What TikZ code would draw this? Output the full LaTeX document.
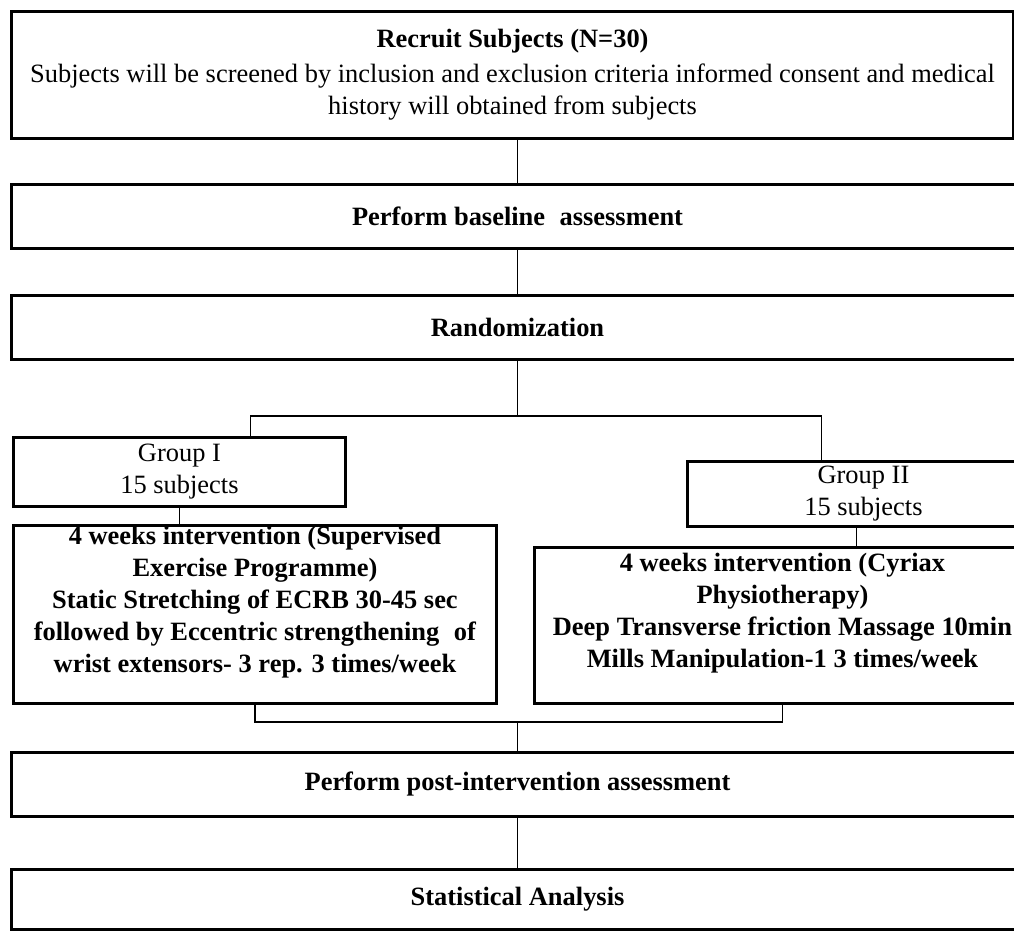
\documentclass[tikz,border=0pt]{standalone}
\usepackage{fontspec}
\setmainfont{Liberation Serif}

\begin{document}
\begin{tikzpicture}[x=0.025cm, y=-0.025cm,
  box/.style={draw, line width=2pt, inner sep=0pt, anchor=north west},
  txt/.style={align=center, inner sep=0pt, font=\fontsize{18.8}{22.8}\selectfont},
  link/.style={line width=1pt}]
  \useasboundingbox (0,0) rectangle (1014,930);
  \clip (0,0) rectangle (1014,930);

  \node[box, txt, minimum width=25.05cm, minimum height=3.175cm] (recruit) at (10,10)
    {\textbf{Recruit Subjects (N=30)}\\[2pt]
     Subjects will be screened by inclusion and exclusion criteria informed consent and medical\\
     history will obtained from subjects};
  \node[box, txt, minimum width=25.3cm, minimum height=1.6cm] (baseline) at (10,183)
    {\textbf{Perform baseline\hspace{0.3em} assessment}};
  \node[box, txt, minimum width=25.3cm, minimum height=1.6cm] (random) at (10,294)
    {\textbf{Randomization}};

  \node[box, txt, minimum width=8.3cm, minimum height=1.725cm] (grpA) at (12,436)
    {Group I\\15 subjects};
  \node[box, minimum width=12.075cm, minimum height=4.45cm] (intA) at (12,524) {};
  \node[txt, anchor=north, yshift=-0.05cm] (intAtxt) at (intA.north)
    {\textbf{4 weeks intervention (Supervised}\\
     \textbf{Exercise Programme)}\\
     \textbf{Static Stretching of ECRB 30-45 sec}\\
     \textbf{followed by Eccentric strengthening\hspace{0.3em} of}\\
     \textbf{wrist extensors- 3 rep. 3 times/week}};

  \node[box, txt, minimum width=8.8cm, minimum height=1.625cm] (grpB) at (686,460)
    {Group II\\15 subjects};
  \node[box, minimum width=12.4cm, minimum height=3.9cm] (intB) at (533,546) {};
  \node[txt, anchor=north, yshift=-0.175cm] (intBtxt) at (intB.north)
    {\textbf{4 weeks intervention (Cyriax}\\
     \textbf{Physiotherapy)}\\
     \textbf{Deep Transverse friction Massage 10min}\\
     \textbf{Mills Manipulation-1 3 times/week}};

  \node[box, txt, minimum width=25.3cm, minimum height=1.6cm] (post) at (10,751)
    {\textbf{Perform post-intervention assessment}};
  \node[box, txt, minimum width=25.3cm, minimum height=1.5cm] (stats) at (10,868)
    {\textbf{Statistical Analysis}};

  \draw[link] (baseline.north) -- (baseline.north |- recruit.south);
  \draw[link] (random.north) -- (random.north |- baseline.south);
  \draw[link] (random.south) -- ++(0,55) coordinate (split);
  \draw[link] ([xshift=1.775cm]grpA.north) |- (split) -| ([xshift=-1.05cm]grpB.north);
  \draw[link] (grpA.south) -- (grpA.south |- intA.north);
  \draw[link] ([xshift=-0.175cm]grpB.south) -- ([xshift=-0.175cm]grpB.south |- intB.north);
  \draw[link] (intA.south) -- ++(0,17) coordinate (merge) -| (intB.south);
  \draw[link] (post.north) -- (post.north |- merge);
  \draw[link] (stats.north) -- (stats.north |- post.south);
\end{tikzpicture}
\end{document}
